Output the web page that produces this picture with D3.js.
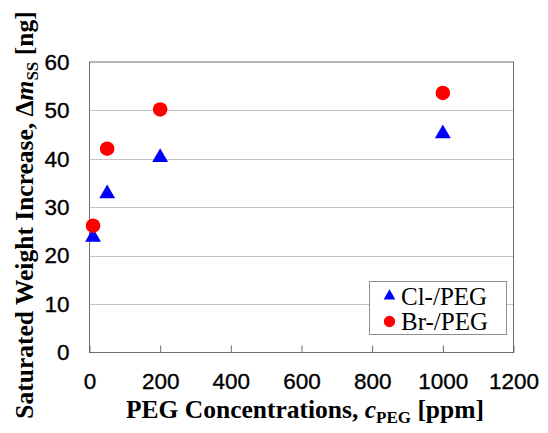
<!DOCTYPE html>
<html><head><meta charset="utf-8">
<script src="https://cdn.jsdelivr.net/npm/d3@7"></script>
<style>
html,body{margin:0;padding:0;background:#fff;}
svg{display:block;}
</style></head>
<body>
<svg id="chart" width="548" height="433"></svg>
<script>
// ---- data ----
const seriesNames = ["Cl-/PEG", "Br-/PEG"];
const concentrations = [10, 50, 200, 1000];
const clValues = [23.8, 32.8, 40.3, 45.2];
const brValues = [26.2, 42.1, 50.2, 53.6];
const xTicks = [0, 200, 400, 600, 800, 1000, 1200];
const yTicks = [0, 10, 20, 30, 40, 50, 60];

const svg = d3.select("#chart");
const m = {left: 89.5, right: 513.5, top: 62, bottom: 352.5};

const x = d3.scaleLinear().domain([0, 1200]).range([m.left, m.right]);
const y = d3.scaleLinear().domain([0, 60]).range([m.bottom, m.top]);

// gridlines
svg.append("g").selectAll("line").data(yTicks.filter(d => d > 0 && d < 60)).join("line")
  .attr("x1", m.left).attr("x2", m.right)
  .attr("y1", d => Math.round(y(d)) + 0.5).attr("y2", d => Math.round(y(d)) + 0.5)
  .attr("stroke", "#c4c4c4").attr("stroke-width", 1);

// plot border
svg.append("rect").attr("x", m.left).attr("y", m.top)
  .attr("width", m.right - m.left).attr("height", m.bottom - m.top)
  .attr("fill", "none").attr("stroke", "#6e6e6e").attr("stroke-width", 1);

// x axis (ticks inward)
const xAxis = d3.axisBottom(x).tickValues(xTicks).tickSize(-7).tickPadding(20)
  .tickFormat(d3.format("d"));
const gx = svg.append("g").attr("transform", `translate(0,${m.bottom})`).call(xAxis);
gx.select(".domain").remove();
gx.selectAll(".tick line").attr("stroke", "#6e6e6e");
gx.selectAll(".tick text").attr("font-family", "Liberation Sans, Arial, sans-serif")
  .attr("font-size", 22.5).attr("fill", "#000").attr("stroke", "#000").attr("stroke-width", 0.35)
  .attr("dy", "0.72em");

// y axis
const yAxis = d3.axisLeft(y).tickValues(yTicks).tickSize(0).tickPadding(20);
const gy = svg.append("g").attr("transform", `translate(${m.left},0)`).call(yAxis);
gy.select(".domain").remove();
gy.selectAll(".tick text").attr("font-family", "Liberation Sans, Arial, sans-serif")
  .attr("font-size", 22.5).attr("fill", "#000").attr("stroke", "#000").attr("stroke-width", 0.35);

// markers
const tri = d3.symbol().type(d3.symbolTriangle).size(110);
const circ = d3.symbol().type(d3.symbolCircle).size(165);

svg.append("g").selectAll("path").data(concentrations.map((c, i) => [c, clValues[i]])).join("path")
  .attr("d", tri).attr("transform", d => `translate(${x(d[0])},${y(d[1])})`)
  .attr("fill", "#0000ff");
svg.append("g").selectAll("path").data(concentrations.map((c, i) => [c, brValues[i]])).join("path")
  .attr("d", circ).attr("transform", d => `translate(${x(d[0])},${y(d[1])})`)
  .attr("fill", "#ff0000");

// legend
const lg = svg.append("g");
lg.append("rect").attr("x", 369.5).attr("y", 281.5).attr("width", 137).attr("height", 53)
  .attr("fill", "#fff").attr("stroke", "#8c8c8c").attr("stroke-width", 1);
const legendItems = [
  {name: seriesNames[0], sym: d3.symbol().type(d3.symbolTriangle).size(60), color: "#0000ff"},
  {name: seriesNames[1], sym: d3.symbol().type(d3.symbolCircle).size(100), color: "#ff0000"}
];
legendItems.forEach((it, i) => {
  const cy = 296 + i * 25.5;
  lg.append("path").attr("d", it.sym).attr("transform", `translate(389.5,${cy})`).attr("fill", it.color);
  lg.append("text").attr("x", 401).attr("y", cy + 8.5)
    .attr("font-family", "Liberation Serif, Times New Roman, serif").attr("font-size", 25)
    .attr("fill", "#000").text(it.name);
});

// axis titles
const xt = svg.append("text").attr("x", 305).attr("y", 418).attr("text-anchor", "middle")
  .attr("font-family", "Liberation Serif, Times New Roman, serif").attr("font-size", 25.5)
  .attr("font-weight", "bold").attr("fill", "#000");
xt.append("tspan").text("PEG Concentrations, ");
xt.append("tspan").attr("font-style", "italic").text("c");
xt.append("tspan").attr("font-size", 17).attr("dy", 5).text("PEG");
xt.append("tspan").attr("dy", -5).text(" [ppm]");

const yt = svg.append("text").attr("transform", "translate(33,215) rotate(-90)")
  .attr("text-anchor", "middle")
  .attr("font-family", "Liberation Serif, Times New Roman, serif").attr("font-size", 25.5)
  .attr("font-weight", "bold").attr("fill", "#000");
yt.append("tspan").text("Saturated Weight Increase, \u0394");
yt.append("tspan").attr("font-style", "italic").text("m");
yt.append("tspan").attr("font-size", 17).attr("dy", 5).text("SS");
yt.append("tspan").attr("dy", -5).text(" [ng]");
</script>
</body></html>
